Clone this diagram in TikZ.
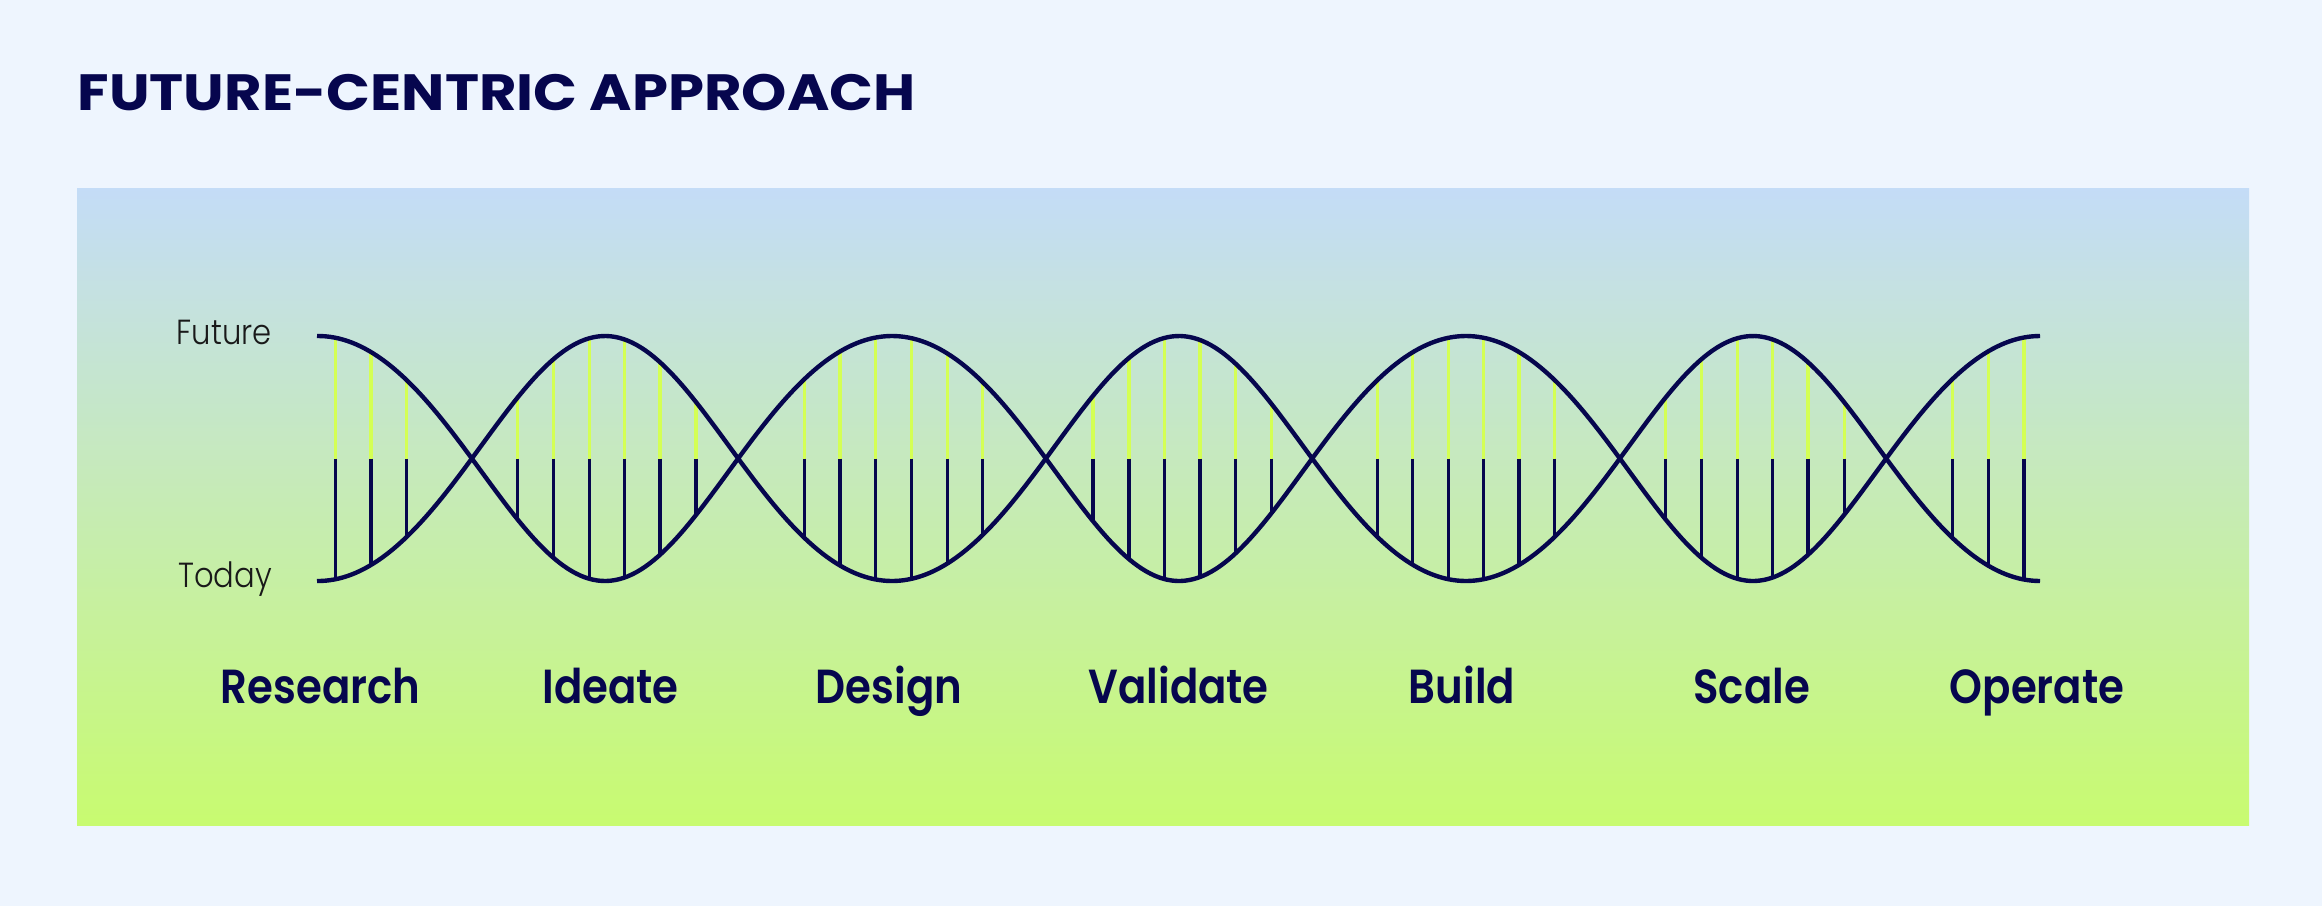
\documentclass[tikz,border=0pt]{standalone}
\usepackage{fontspec}
\setmainfont{Poppins}
\newfontfamily\titlefont[FakeStretch=1.13]{Poppins Bold}
\newfontfamily\stagefont[FakeStretch=0.875]{Poppins SemiBold}
\newfontfamily\axisfont[FakeStretch=0.88]{Poppins Light}
\usetikzlibrary{calc}

\definecolor{bgBlue}{RGB}{238,245,254}
\definecolor{panelTop}{RGB}{196,220,247}
\definecolor{panelMid}{RGB}{197,233,195}
\definecolor{panelBot}{RGB}{200,251,112}
\definecolor{helixNavy}{RGB}{6,6,78}
\definecolor{rungLime}{RGB}{212,255,84}

\tikzset{
  stage/.style={anchor=base, inner sep=0pt, text=helixNavy,
    font=\stagefont\fontsize{13.6}{16}\selectfont},
  axis/.style={anchor=base east, inner sep=0pt, text=black!90,
    font=\axisfont\fontsize{9.9}{12}\selectfont},
  strand/.style={helixNavy, line width=1.25pt},
  rungtop/.style={rungLime, line width=0.9pt},
  rungbot/.style={helixNavy, line width=0.9pt}
}

\begin{document}
\begin{tikzpicture}[x=0.01cm, y=-0.01cm]
\fill[bgBlue] (0,0) rectangle (2322,906);
\shade[top color=panelTop, middle color=panelMid, bottom color=panelBot] (77,188) rectangle (2249,825);

\node[anchor=base west, inner sep=0pt, text=helixNavy, font=\titlefont\fontsize{14.5}{17}\selectfont] (title) at (77,110.7) {FUTURE-CENTRIC APPROACH};

% rungs: lime above the middle, navy below
\foreach \x in {335.3,371,406.7, 517.7,553.7,589.3,624.3,660,696,
  804.3,840,875.7,911.3,947.3,982.7, 1093,1129,1164.3,1200,1235.3,1271.3,
  1377.3,1412.7,1448.3,1483.3,1519,1554.7, 1665.7,1701.7,1737.3,1772.7,1808,1844.3,
  1952.7,1988.4,2024}{
  \pgfmathsetmacro\u{(\x-318)/287}
  \pgfmathsetmacro\ph{180*\u-6.53*sin(180*\u)}
  \pgfmathsetmacro\h{122.5*abs(cos(\ph))}
  \draw[rungtop] (\x,458.5-\h) -- (\x,458.5);
  \draw[rungbot] (\x,458.5) -- (\x,458.5+\h);
}

% the two strands
\draw[strand] plot[domain=317:2040, samples=400] (\x,{458.5-122.5*cos(180*((\x-318)/287)-6.53*sin(180*((\x-318)/287)))});
\draw[strand] plot[domain=317:2040, samples=400] (\x,{458.5+122.5*cos(180*((\x-318)/287)-6.53*sin(180*((\x-318)/287)))});

\node[axis] (future) at (272.3,344.3) {Future};
\node[axis] (today) at (272.7,587.7) {Today};

\node[stage] (research) at (320.7,703) {Research};
\node[stage] (ideate) at (610.5,703) {Ideate};
\node[stage] (design) at (889,703) {Design};
\node[stage] (validate) at (1178.7,703) {Validate};
\node[stage] (build) at (1462,703) {Build};
\node[stage] (scale) at (1751.7,703) {Scale};
\node[stage] (operate) at (2037,703) {Operate};
\end{tikzpicture}
\end{document}
